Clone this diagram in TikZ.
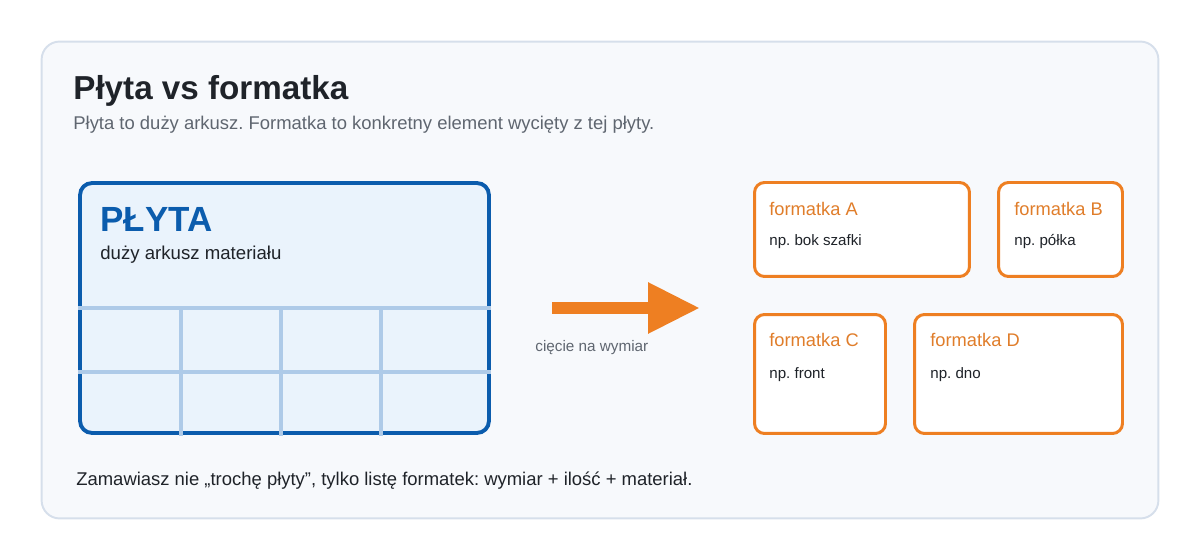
\documentclass[tikz,border=0pt]{standalone}
\usepackage{fontspec}
\setmainfont{Liberation Sans}
\usetikzlibrary{arrows.meta, positioning}
\definecolor{panelbg}{HTML}{F7F9FC}
\definecolor{panelline}{HTML}{D6DFEB}
\definecolor{inkdark}{HTML}{1F2329}
\definecolor{inkgray}{HTML}{5F6670}
\definecolor{boardblue}{HTML}{0B5CAD}
\definecolor{boardfill}{HTML}{EAF3FC}
\definecolor{cutline}{HTML}{AECAE8}
\definecolor{orange}{HTML}{EE7F22}
\definecolor{orangetext}{HTML}{E07D2A}
\frenchspacing

\begin{document}
\begin{tikzpicture}[
      x=0.02cm, y=-0.02cm,
      panel/.style={rectangle, draw=panelline, fill=panelbg, line width=1.1pt,
                    rounded corners=0.36cm, minimum width=22.34cm, minimum height=9.54cm},
      board/.style={rectangle, draw=boardblue, fill=boardfill, line width=2.2pt,
                    rounded corners=0.24cm, minimum width=8.18cm, minimum height=5.0cm},
      piece/.style={rectangle, draw=orange, fill=white, line width=1.7pt,
                    rounded corners=0.2cm, minimum height=#1},
      gridline/.style={cutline, line width=1.9pt},
      cutarrow/.style={-{Triangle[length=1.04cm, width=0.96cm]}, orange, line width=0.24cm},
      txt/.style={anchor=base west, inner sep=0pt},
      ptitle/.style={txt, text=orangetext, font=\fontsize{10.4}{12}\selectfont},
      pnote/.style={txt, text=inkdark, font=\fontsize{8.6}{10}\selectfont}
    ]
    \useasboundingbox (0,0) rectangle (1200,560);
    \node[panel] (panel) at (600,280) {};

    \node[txt, text=inkdark, font=\fontsize{18.9}{22}\selectfont\bfseries] (title) at (73,100) {Płyta vs formatka};
    \node[txt, text=inkgray, font=\fontsize{10.5}{12}\selectfont] (subtitle) at (73,130) {Płyta to duży arkusz. Formatka to konkretny element wycięty z tej płyty.};

    % plyta z siatka ciec
    \node[board] (plyta) at (284.5,308) {};
    \node[txt, text=boardblue, font=\fontsize{19.9}{23}\selectfont\bfseries] (plytaname) at (100,232) {PŁYTA};
    \node[txt, text=inkdark, font=\fontsize{10.6}{12}\selectfont] (plytanote) at (100,260) {duży arkusz materiału};
    \foreach \gy in {308,372}
      \draw[gridline] (78,\gy) -- (491,\gy);
    \foreach \gx in {181,281,381}
      \draw[gridline] (\gx,308) -- (\gx,436);

    % strzalka
    \coordinate (cutfrom) at (552,308);
    \coordinate (cutto) at (700,308);
    \draw[cutarrow] (cutfrom) -- (cutto);
    \node[txt, text=inkgray, font=\fontsize{8.7}{10}\selectfont] (cutlabel) at (535,352) {cięcie na wymiar};

    % formatki
    \node[piece=1.88cm, minimum width=4.3cm] (fa) at (862,229.5) {};
    \node[piece=1.88cm, minimum width=2.48cm] (fb) at (1060.5,229.5) {};
    \node[piece=2.38cm, minimum width=2.62cm] (fc) at (820,374) {};
    \node[piece=2.38cm, minimum width=4.16cm] (fd) at (1018.5,374) {};

    \node[ptitle] (faname) at (769,216) {formatka A};
    \node[pnote] (fanote) at (769,246) {np. bok szafki};
    \node[ptitle] (fbname) at (1014,216) {formatka B};
    \node[pnote] (fbnote) at (1014,246) {np. półka};
    \node[ptitle] (fcname) at (769,347) {formatka C};
    \node[pnote] (fcnote) at (769,378) {np. front};
    \node[ptitle] (fdname) at (930,347) {formatka D};
    \node[pnote] (fdnote) at (930,378) {np. dno};

    \node[txt, text=inkdark, font=\fontsize{10.5}{12}\selectfont] (summary) at (76,485) {Zamawiasz nie „trochę płyty”, tylko listę formatek: wymiar + ilość + materiał.};
  \end{tikzpicture}
\end{document}
